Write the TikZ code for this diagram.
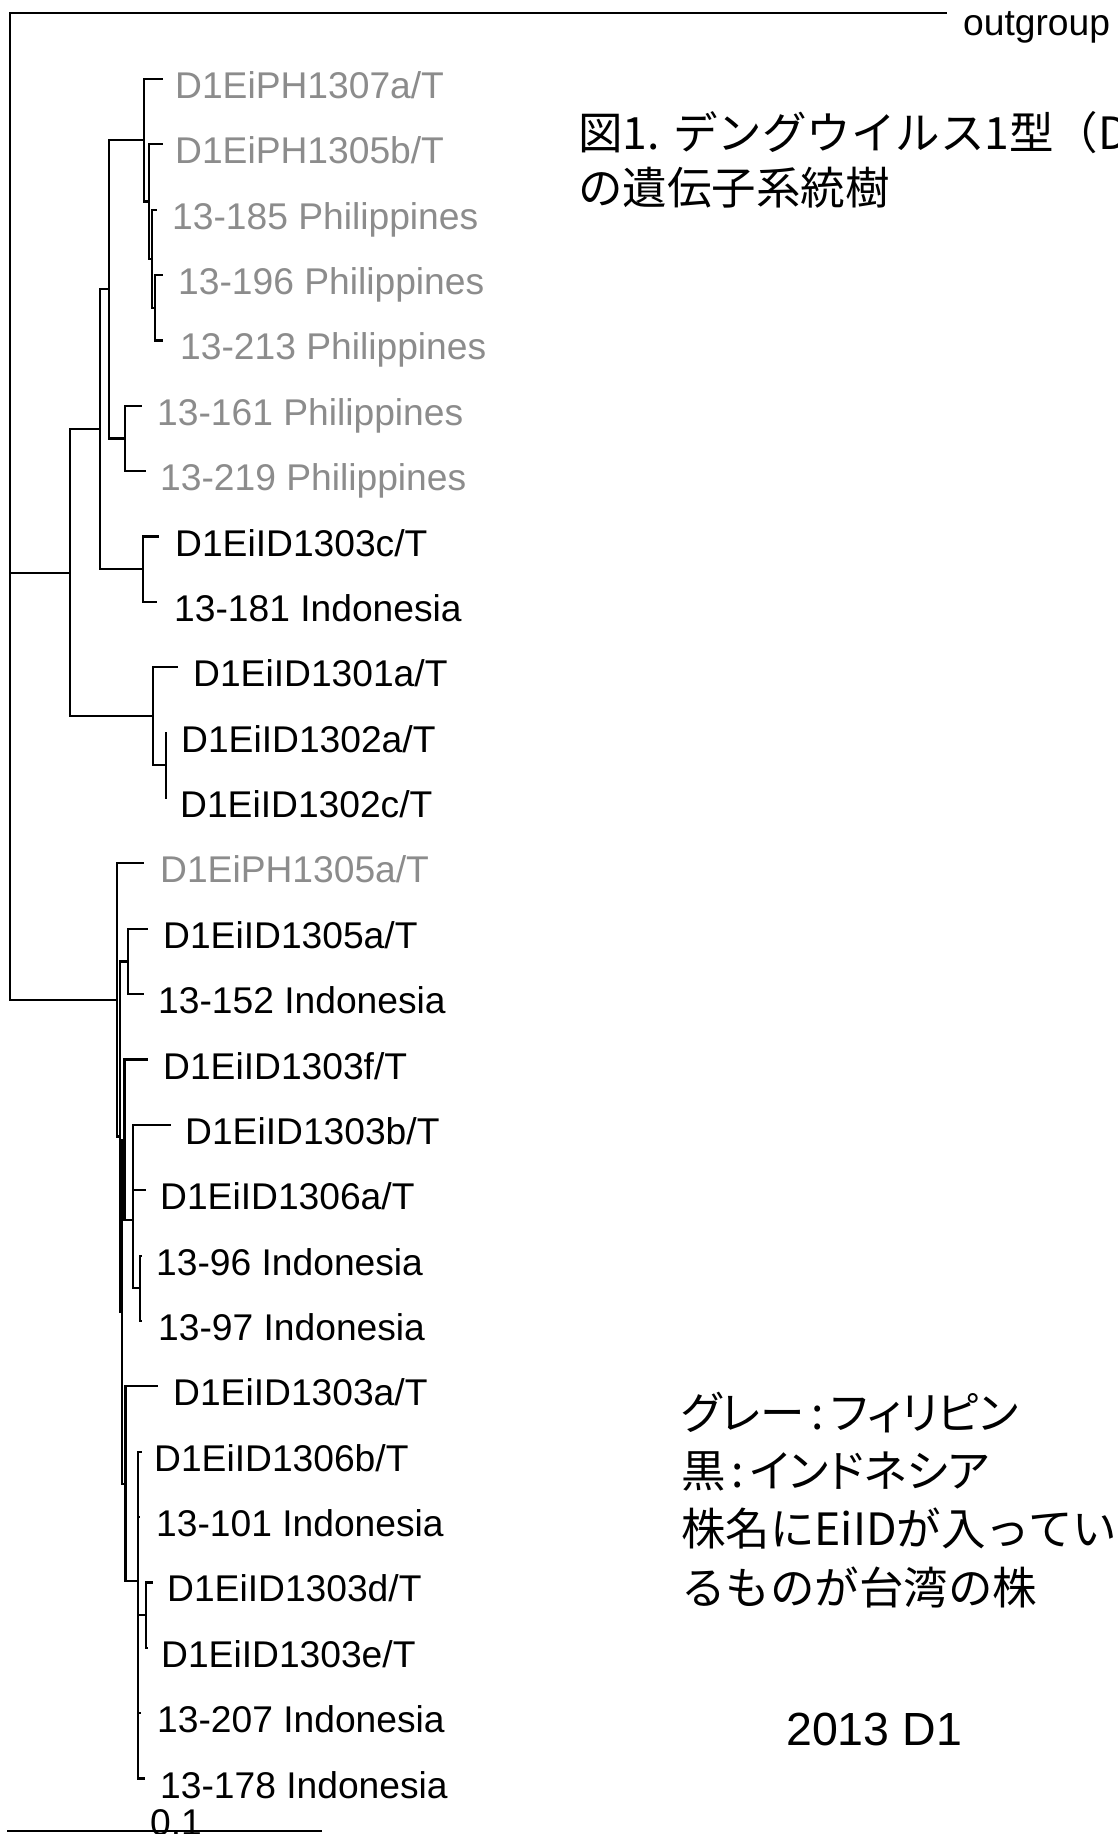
\documentclass[tikz,border=0pt]{standalone}
\usepackage{fontspec}
\setmainfont{Liberation Sans}
\newfontfamily\cjkfont{Noto Sans CJK JP}
\newfontfamily\cjkpfont[RawFeature=+palt]{Noto Sans CJK JP}
\definecolor{philgray}{gray}{0.55}
\begin{document}
\begin{tikzpicture}[x=1pt,y=-1pt,
  br/.style={line width=2.2pt, black, line join=miter},
  lab/.style={anchor=base west, inner sep=0pt, font=\fontsize{37.2}{40}\selectfont},
  ph/.style={lab, text=philgray},
  idn/.style={lab, text=black},
  jp/.style={anchor=base west, inner sep=0pt, font=\cjkfont\fontsize{44.5}{50}\selectfont},
  jpp/.style={anchor=base west, inner sep=0pt, font=\cjkpfont\fontsize{44.5}{50}\selectfont}]
\useasboundingbox (0,0) rectangle (1118,1834);
\fill[white] (0,0) rectangle (1118,1834);
% internal nodes
\coordinate (root) at (10,506);
\coordinate (og) at (947,13);
\coordinate (I) at (70,572.8);
\coordinate (G) at (100,429.3);
\coordinate (E) at (109,289.3);
\coordinate (A) at (144,140.2);
\coordinate (B) at (149,201.5);
\coordinate (C) at (152,258.7);
\coordinate (D) at (155,307.7);
\coordinate (F) at (125,438.5);
\coordinate (H) at (143,569.2);
\coordinate (J) at (153,716.3);
\coordinate (K) at (166,765.3);
\coordinate (L) at (117,999.9);
\coordinate (M) at (120,1136.5);
\coordinate (N) at (128,961.4);
\coordinate (M2) at (122,1311.7);
\coordinate (O) at (124.5,1139.7);
\coordinate (P) at (133,1220);
\coordinate (Q) at (140,1288.3);
\coordinate (V) at (125.5,1483.7);
\coordinate (T) at (138,1581);
\coordinate (U) at (146,1615.1);
% tips
\coordinate (t0) at (163,78.9);
\coordinate (t1) at (163,144.3);
\coordinate (t2) at (157,209.6);
\coordinate (t3) at (163,275.0);
\coordinate (t4) at (163,340.4);
\coordinate (t5) at (142,405.8);
\coordinate (t6) at (146,471.1);
\coordinate (t7) at (159,536.5);
\coordinate (t8) at (157,601.9);
\coordinate (t9) at (178,667.2);
\coordinate (t10) at (167,732.6);
\coordinate (t11) at (167,798.0);
\coordinate (t12) at (144,863.3);
\coordinate (t13) at (148,928.7);
\coordinate (t14) at (144,994.1);
\coordinate (t15) at (148,1059.5);
\coordinate (t16) at (171,1124.8);
\coordinate (t17) at (146,1190.2);
\coordinate (t18) at (142,1255.6);
\coordinate (t19) at (142,1320.9);
\coordinate (t20) at (158,1386.3);
\coordinate (t21) at (142,1451.7);
\coordinate (t22) at (140,1517.0);
\coordinate (t23) at (153,1582.4);
\coordinate (t24) at (148,1647.8);
\coordinate (t25) at (141,1713.2);
\coordinate (t26) at (145,1778.5);
% branches
\foreach \p/\c in {root/og, root/I, root/L, I/G, I/J, G/E, G/H, E/A, E/F,
  A/t0, A/B, B/t1, B/C, C/t2, C/D, D/t3, D/t4, F/t5, F/t6, H/t7, H/t8,
  J/t9, J/K, K/t10, K/t11, L/t12, L/M, M/N, M/M2, N/t13, N/t14,
  M2/O, M2/V, O/t15, O/P, P/t16, P/t17, P/Q, Q/t18, Q/t19,
  V/t20, V/T, T/t21, T/t22, T/U, T/t25, T/t26, U/t23, U/t24}
  \draw[br] (\p) |- (\c);
% labels
\node[lab] (og-l) at (963,35) {outgroup};
\node[ph] (n0) at (175,98.4) {D1EiPH1307a/T};
\node[ph] (n1) at (175,163.8) {D1EiPH1305b/T};
\node[ph] (n2) at (172,229.1) {13-185 Philippines};
\node[ph] (n3) at (178,294.5) {13-196 Philippines};
\node[ph] (n4) at (180,359.9) {13-213 Philippines};
\node[ph] (n5) at (157,425.3) {13-161 Philippines};
\node[ph] (n6) at (160,490.6) {13-219 Philippines};
\node[idn] (n7) at (175,556.0) {D1EiID1303c/T};
\node[idn] (n8) at (174,621.4) {13-181 Indonesia};
\node[idn] (n9) at (193,686.7) {D1EiID1301a/T};
\node[idn] (n10) at (181,752.1) {D1EiID1302a/T};
\node[idn] (n11) at (180,817.5) {D1EiID1302c/T};
\node[ph] (n12) at (160,882.8) {D1EiPH1305a/T};
\node[idn] (n13) at (163,948.2) {D1EiID1305a/T};
\node[idn] (n14) at (158,1013.6) {13-152 Indonesia};
\node[idn] (n15) at (163,1079.0) {D1EiID1303f/T};
\node[idn] (n16) at (185,1144.3) {D1EiID1303b/T};
\node[idn] (n17) at (160,1209.7) {D1EiID1306a/T};
\node[idn] (n18) at (156,1275.1) {13-96 Indonesia};
\node[idn] (n19) at (158,1340.4) {13-97 Indonesia};
\node[idn] (n20) at (173,1405.8) {D1EiID1303a/T};
\node[idn] (n21) at (154,1471.2) {D1EiID1306b/T};
\node[idn] (n22) at (156,1536.5) {13-101 Indonesia};
\node[idn] (n23) at (167,1601.9) {D1EiID1303d/T};
\node[idn] (n24) at (161,1667.3) {D1EiID1303e/T};
\node[idn] (n25) at (157,1732.7) {13-207 Indonesia};
\node[idn] (n26) at (160,1798.0) {13-178 Indonesia};
% title
\node[jp] (title1) at (578,149) {図1. デングウイルス1型（D};
\node[jp] (title2) at (578,204) {の遺伝子系統樹};
% legend
\node[jpp] (leg1) at (681,1429) {グレー\hspace{7pt}:\hspace{7pt}フィリピン};
\node[jpp] (leg2) at (681,1487) {黒\hspace{6pt}:\hspace{6pt}インドネシア};
\node[jp] (leg3) at (681,1545) {株名にEiIDが入ってい};
\node[jp] (leg4) at (681,1604) {るものが台湾の株};
\node[anchor=base west, inner sep=0pt, font=\fontsize{46.5}{50}\selectfont] (yr) at (786,1745) {2013 D1};
% scale bar
\coordinate (sb1) at (7,1831);
\coordinate (sb2) at (322,1831);
\draw[line width=2.2pt] (sb1) -- (sb2);
\node[lab] (sbl) at (150,1835) {0.1};
\end{tikzpicture}
\end{document}
